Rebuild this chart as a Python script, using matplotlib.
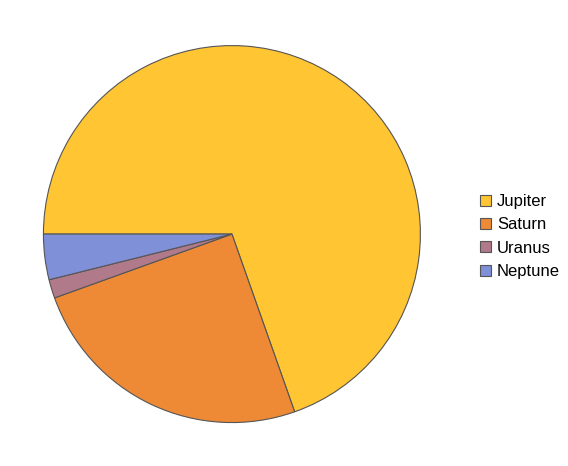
import matplotlib
matplotlib.use("Agg")
import matplotlib.pyplot as plt
from matplotlib.patches import Patch

planets = ["Jupiter", "Saturn", "Uranus", "Neptune"]
shares = [69.6, 24.9, 1.6, 3.9]
colors = ["#FFC533", "#EE8A35", "#B07A8A", "#7F8FD8"]

plt.rcParams["font.family"] = ["Liberation Sans", "DejaVu Sans"]

fig = plt.figure(figsize=(5.68, 4.66), dpi=100)
ax = fig.add_axes([0.0748, 0.0912, 0.667, 0.813])

ax.pie(shares, colors=colors, startangle=180, counterclock=False,
       radius=1.0, wedgeprops=dict(edgecolor="#555555", linewidth=0.8))
ax.set_xlim(-1.005, 1.005)
ax.set_ylim(-1.005, 1.005)
ax.set_aspect("equal")
ax.axis("off")

# legend on the right, no frame
handles = [Patch(facecolor=c, edgecolor="#555555", linewidth=0.8) for c in colors]
fig.legend(handles, planets, loc="center left", bbox_to_anchor=(0.845, 0.4925),
           frameon=False, fontsize=12, handlelength=0.66, handleheight=0.66,
           handletextpad=0.36, labelspacing=0.5, borderpad=0, borderaxespad=0)

fig.savefig("out.png", dpi=100)
